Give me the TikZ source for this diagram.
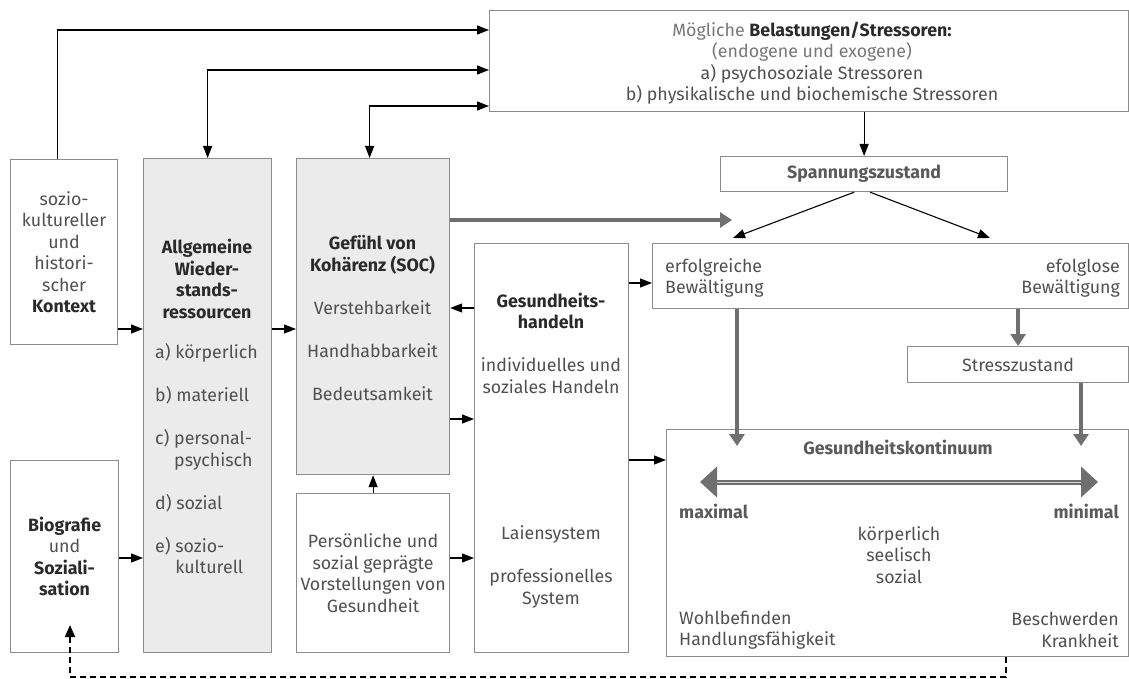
\documentclass[tikz,border=0pt]{standalone}
\usepackage{fontspec}
\setmainfont{Fira Sans}
\usepackage{xcolor}
\usetikzlibrary{arrows.meta}
\definecolor{box_gray}{HTML}{8c8c8c}
\definecolor{fill_gray}{HTML}{ebebeb}
\definecolor{arrow_gray}{HTML}{6f6f6f}
\definecolor{text_gray}{HTML}{505050}
\definecolor{text_light}{HTML}{777777}
\definecolor{text_mid}{HTML}{5a5a5a}
\definecolor{text_dark}{HTML}{2a2a2a}
\newcommand{\hb}[1]{\textbf{\color{text_dark}#1}}
\newcommand{\hg}[1]{\textbf{\color{text_mid}#1}}

\begin{document}
\begin{tikzpicture}[x=1pt, y=-1pt,
    every node/.style={font=\fontsize{17.8}{21.5}\selectfont, text=text_gray, inner sep=0pt},
    box/.style={draw=box_gray, line width=1.2pt, anchor=north west, align=center},
    shaded/.style={box, fill=fill_gray},
    arr/.style={line width=1.1pt, -{Triangle[length=12pt,width=9pt]}},
    biarr/.style={line width=1.1pt, {Triangle[length=12pt,width=9pt]}-{Triangle[length=12pt,width=9pt]}},
    garr/.style={arrow_gray, line width=4pt, -{Triangle[length=12pt,width=15pt]}},
    darr/.style={line width=1.8pt, dash pattern=on 6pt off 4pt, -{Triangle[length=12pt,width=10pt]}}]
    \useasboundingbox (0,0) rectangle (1129,679);

    % Left column and resources
    \node[box, minimum width=107pt, minimum height=185pt] (soz) at (10,159) {sozio-\\kultureller\\und\\histori-\\scher\\\hb{Kontext}};
    \node[box, minimum width=108pt, minimum height=192pt] (bio) at (10,460) {\hb{Biografie}\\und\\\hb{Soziali-}\\\hb{sation}};
    \node[shaded, minimum width=128pt, minimum height=494pt] (allg) at (143,158) {};
    \node[shaded, minimum width=153pt, minimum height=316pt] (soc) at (296,158) {};
    \node[box, minimum width=153pt, minimum height=159pt] (pers) at (296,493) {Persönliche und\\sozial geprägte\\Vorstellungen von\\Gesundheit};
    \node[box, minimum width=154pt, minimum height=409pt] (handeln) at (474,243) {};

    \node[align=center] (allg_head) at (207,279) {\hb{Allgemeine}\\\hb{Wieder-}\\\hb{stands-}\\\hb{ressourcen}};
    \node[align=left, anchor=west] (allg_list) at (155,460) {a) körperlich\\[21.5pt]b) materiell\\[21.5pt]c) personal-\\\phantom{c) }psychisch\\[21.5pt]d) sozial\\[21.5pt]e) sozio-\\\phantom{e) }kulturell};
    \node[align=center] (soc_txt) at (372.5,318) {\hb{Gefühl von}\\\hb{Kohärenz (SOC)}\\[21.5pt]Verstehbarkeit\\[21.5pt]Handhabbarkeit\\[21.5pt]Bedeutsamkeit};
    \node[align=center] (handeln_top) at (551,343) {\hb{Gesundheits-}\\\hb{handeln}\\[21.5pt]individuelles und\\soziales Handeln};
    \node[align=center] (handeln_bot) at (551,567) {Laiensystem\\[21.5pt]professionelles\\System};

    % Stressors and coping
    \node[box, minimum width=639pt, minimum height=101pt] (stress) at (489,10) {};
    \node[align=center] (stress_txt) at (812,63) {{\color{text_light}Mögliche} \hb{Belastungen/Stressoren:}\\{\color{text_light}(endogene und exogene)}\\a) psychosoziale Stressoren\\b) physikalische und biochemische Stressoren};
    \node[box, minimum width=287pt, minimum height=35pt] (span) at (720,156) {\hg{Spannungszustand}};
    \node[box, minimum width=476pt, minimum height=65pt] (bew) at (652,243) {};
    \node[align=left, anchor=west] (bew_l) at (665,278) {erfolgreiche\\Bewältigung};
    \node[align=right, anchor=east] (bew_r) at (1120,278) {efolglose\\Bewältigung};
    \node[box, minimum width=221pt, minimum height=36pt] (stresz) at (907,346) {Stresszustand};

    % Health continuum
    \node[box, minimum width=462pt, minimum height=227pt] (kont) at (666,429) {};
    \node (kont_title) at (898,447) {\hg{Gesundheitskontinuum}};
    \node[anchor=west] (kmax_txt) at (679,511) {\hg{maximal}};
    \node[anchor=east] (kmin_txt) at (1119,511) {\hg{minimal}};
    \node[align=center] (kdim) at (899,555) {körperlich\\seelisch\\sozial};
    \node[align=left, anchor=west] (kwohl) at (679,630) {Wohlbefinden\\Handlungsfähigkeit};
    \node[align=right, anchor=east] (kkrank) at (1119,630) {Beschwerden\\Krankheit};

    \coordinate (r1) at (0,30);
    \coordinate (r2) at (0,70);
    \coordinate (r3) at (0,106);
    \coordinate (gtip) at (732,220);
    \coordinate (kl) at (737,446);
    \coordinate (kr) at (1081,446);
    \coordinate (kmax) at (700,482);
    \coordinate (kmin) at (1098,482);
    \coordinate (dtip) at (70,625);

    % Connectors to the stressors
    \draw[arr] ([xshift=-6.5pt]soz.north) |- (stress.west |- r1);
    \draw[biarr] (allg.north) |- (stress.west |- r2);
    \draw[biarr] ([xshift=-3.5pt]soc.north) |- (stress.west |- r3);
    \draw[arr] (stress.south -| span.north) -- (span.north);
    \draw[arr] ([xshift=-10pt]span.south) -- ([shift={(81,-5)}]bew.north west);
    \draw[arr] ([xshift=6pt]span.south) -- ([shift={(338,-5)}]bew.north west);
    \draw[garr] (soc.east |- gtip) -- (gtip);

    % Connectors between the columns
    \draw[arr] (soz.east |- 0,329) -- (allg.west |- 0,329);
    \draw[arr] (allg.east |- 0,329) -- (soc.west |- 0,329);
    \draw[arr] (bio.east |- 0,558) -- (allg.west |- 0,558);
    \draw[arr] (pers.east |- 0,558) -- (handeln.west |- 0,558);
    \draw[arr] (pers.north) -- (soc.south);
    \draw[arr] (handeln.west |- 0,308) -- (soc.east |- 0,308);
    \draw[arr] (soc.east |- 0,419) -- (handeln.west |- 0,419);
    \draw[arr] (handeln.east |- 0,283) -- (bew.west |- 0,283);
    \draw[arr] (handeln.east |- 0,460) -- (kont.west |- 0,460);

    % Grey arrows into the continuum
    \draw[garr] (bew.south -| kl) -- (kl);
    \draw[garr] (bew.south -| stresz.north) -- (stresz.north);
    \draw[garr] (stresz.south -| kr) -- (kr);
    \draw[arrow_gray, line width=5pt, {Triangle[length=17pt,width=30pt]}-{Triangle[length=17pt,width=30pt]}] (kmax) -- (kmin);
    \draw[white!70!arrow_gray, line width=1pt] ([xshift=17pt]kmax) -- ([xshift=-17pt]kmin);

    % Feedback to biography
    \draw[darr] (kont.south -| 1006,0) -- ++(0,20) -| (dtip);
\end{tikzpicture}
\end{document}
